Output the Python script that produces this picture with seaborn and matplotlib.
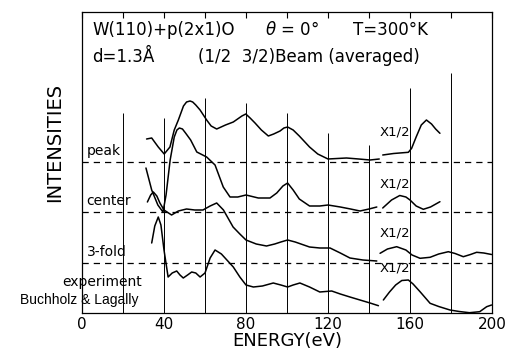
import numpy as np
import pandas as pd
import matplotlib
matplotlib.use("Agg")
import matplotlib.pyplot as plt
import seaborn as sns

# ==============================
# Data (energy in eV, intensity in arbitrary offset units)
# ==============================

# "peak" model, left part and x1/2 part
peak_e1 = [31.5, 34, 37.2, 40.1, 42.9, 45, 47, 49.5, 51, 52.7, 54, 55.5, 57.6, 60.8, 63, 65.7, 70,
           73.8, 78, 79.9, 82, 84.4, 87.5, 90.9, 93.5, 96.6, 98.5, 100.3, 103, 106, 111, 115, 120,
           129, 135, 140.5, 145]
peak_i1 = [174, 175, 166, 159, 166, 183, 193, 207, 211, 212, 211, 208, 203, 193, 187, 184, 188,
           191, 197, 199, 195, 190, 183, 177, 179, 182, 185, 186, 183, 177, 166, 159, 154,
           155, 154, 153, 154]
peak_e2 = [146.7, 152, 159.2, 160.8, 163, 165.5, 168, 170.5, 172.5, 174.6]
peak_i2 = [158, 159.5, 160.7, 164.7, 176, 188, 193, 189, 184, 179.7]

# "center" model
center_e1 = [31.2, 34, 37, 39.5, 41, 43, 45, 46.3, 47.5, 49, 50.5, 53, 56, 60.8, 64.9, 68.9, 72.2,
             76, 80, 86, 91.7, 95, 98, 100.3, 103, 106, 111, 116, 120, 126, 131, 135.6, 140, 143.8]
center_i1 = [145, 123, 108, 101, 118, 153, 176, 183, 185, 184, 180, 173, 161, 156, 148, 126, 116,
             116, 118, 115, 115, 120, 127, 130, 123, 114, 107, 107, 108, 106, 104, 102, 104, 106]
center_e2 = [146.7, 151, 155, 158, 160, 163, 166.5, 170, 174.6]
center_i2 = [105, 113, 117.5, 116, 113, 107, 103.7, 106, 111.3]

# "3-fold" model
fold_e1 = [31.9, 33.5, 34.8, 36.5, 38, 40, 43.7, 47, 51, 55, 59, 62.5, 65.7, 69, 73.7, 77, 80, 85,
           90, 94, 97, 100.3, 104, 111, 116, 121, 126, 130.7, 137, 143.8]
fold_i1 = [111, 118, 121, 117, 110, 103, 98, 102, 104, 103, 103, 107, 110, 103, 86, 79, 73, 69,
           67, 69, 71, 73, 71, 66, 65, 65, 60, 55, 53, 52]
fold_e2 = [145.4, 149, 153.5, 158, 161, 164.9, 169.8, 174, 178.7, 182, 186, 189.5, 192.5, 196, 199.8]
fold_i2 = [59.7, 64, 66.3, 63, 58, 54.7, 55.7, 59, 61.3, 59.5, 56.3, 58.5, 60.7, 60, 58.5]

# experiment (Buchholz & Lagally)
exp_e1 = [34, 35.5, 37.2, 38.5, 40, 42, 44, 46.2, 47.8, 49.4, 51.5, 53.5, 55.5, 57.6, 60, 62.5,
          64.9, 68, 73.8, 77, 80, 83.6, 88, 93.3, 97, 100.3, 103, 106.3, 111, 116, 121.8, 126,
          130.7, 135.6, 140.5, 144.6]
exp_i1 = [70, 87, 96, 88, 63, 36, 40, 42, 38, 35, 38, 41, 40, 36, 40, 55,
          63, 59, 46, 36, 28, 26, 27, 30, 28, 26, 28, 30, 26, 21, 22, 19,
          16, 13, 10, 7.3]
exp_e2 = [147, 150, 153, 156, 159.2, 161.5, 164.9, 169.8, 174, 179.5, 184, 189, 194, 197.4, 199.8]
exp_i2 = [13, 21, 28, 32.5, 33, 29, 21.3, 9.7, 6.5, 3, 1.5, 0.3, 1.3, 6.3, 8]

# zero lines of the shifted curves
baselines = [151, 101, 50]
curve_names = ["peak", "center", "3-fold"]

# partial vertical grid lines (energy, top end)
grid_e = [20, 40, 60, 80, 100, 120, 140, 160, 180]
grid_top = [200, 195, 215, 210, 200, 180, 168, 225, 240]

x_ticks = [0, 40, 80, 120, 160, 200]

# ==============================
# Plot
# ==============================

sns.set_style("white")
plt.rcParams["font.family"] = ["DejaVu Sans"]
plt.rcParams["text.color"] = "black"
plt.rcParams["xtick.color"] = "black"
plt.rcParams["axes.labelcolor"] = "black"

W, H = 510, 352
fig = plt.figure(figsize=(W / 100, H / 100), dpi=100)
ax = fig.add_axes([82 / W, 1 - 313 / H, 410 / W, 301 / H])


def fx(px):
    return px / W


def fy(py):
    return 1 - py / H


segments = [
    (peak_e1, peak_i1), (peak_e2, peak_i2),
    (center_e1, center_i1), (center_e2, center_i2),
    (fold_e1, fold_i1), (fold_e2, fold_i2),
    (exp_e1, exp_i1), (exp_e2, exp_i2),
]
for e, i in segments:
    sns.lineplot(x=e, y=i, ax=ax, color="black", linewidth=1.1,
                 sort=False, estimator=None)

ax.vlines(grid_e, 0, grid_top, color="black", linewidth=0.7)
for b in baselines:
    ax.axhline(b, color="black", linewidth=0.9, linestyle=(0, (5, 4)))

ax.set_xlim(0, 200)
ax.set_ylim(0, 301)
ax.set_xticks(x_ticks)
ax.set_xticks(grid_e[::2], minor=True)
ax.set_yticks([])
ax.tick_params(axis="x", which="both", bottom=False, top=True,
               direction="in", length=4, width=0.8, pad=3, labelsize=11,
               colors="black")
for s in ax.spines.values():
    s.set_color("black")
    s.set_linewidth(0.9)

# labels inside the frame
for name, b in zip(curve_names, baselines):
    ax.text(2.2, b + 11, name, fontsize=10, ha="left", va="center")
ax.text(29.3, 31, "experiment", fontsize=10, ha="right", va="center")
ax.text(27.8, 13, "Buchholz & Lagally", fontsize=10, ha="right", va="center",
        family=["Liberation Sans", "DejaVu Sans"])
for yy in [181, 129, 80, 45]:
    ax.text(145.4, yy, "X1/2", fontsize=9.5, ha="left", va="center")

# header
fig.text(fx(92), fy(30), "W(110)+p(2x1)O", fontsize=12, ha="left", va="center")
fig.text(fx(265), fy(30), "$\\theta$ = 0°", fontsize=12, ha="left", va="center")
fig.text(fx(353), fy(30), "T=300°K", fontsize=12, ha="left", va="center")
fig.text(fx(92), fy(57), "d=1.3Å", fontsize=12, ha="left", va="center")
fig.text(fx(198), fy(57), "(1/2  3/2)Beam (averaged)", fontsize=12, ha="left", va="center")

fig.text(fx(55), fy(142), "INTENSITIES", fontsize=14, rotation=90, ha="center", va="center")
fig.text(fx(287), fy(341), "ENERGY(eV)", fontsize=13, ha="center", va="center")

plt.savefig("out.png", dpi=100)
plt.close()
